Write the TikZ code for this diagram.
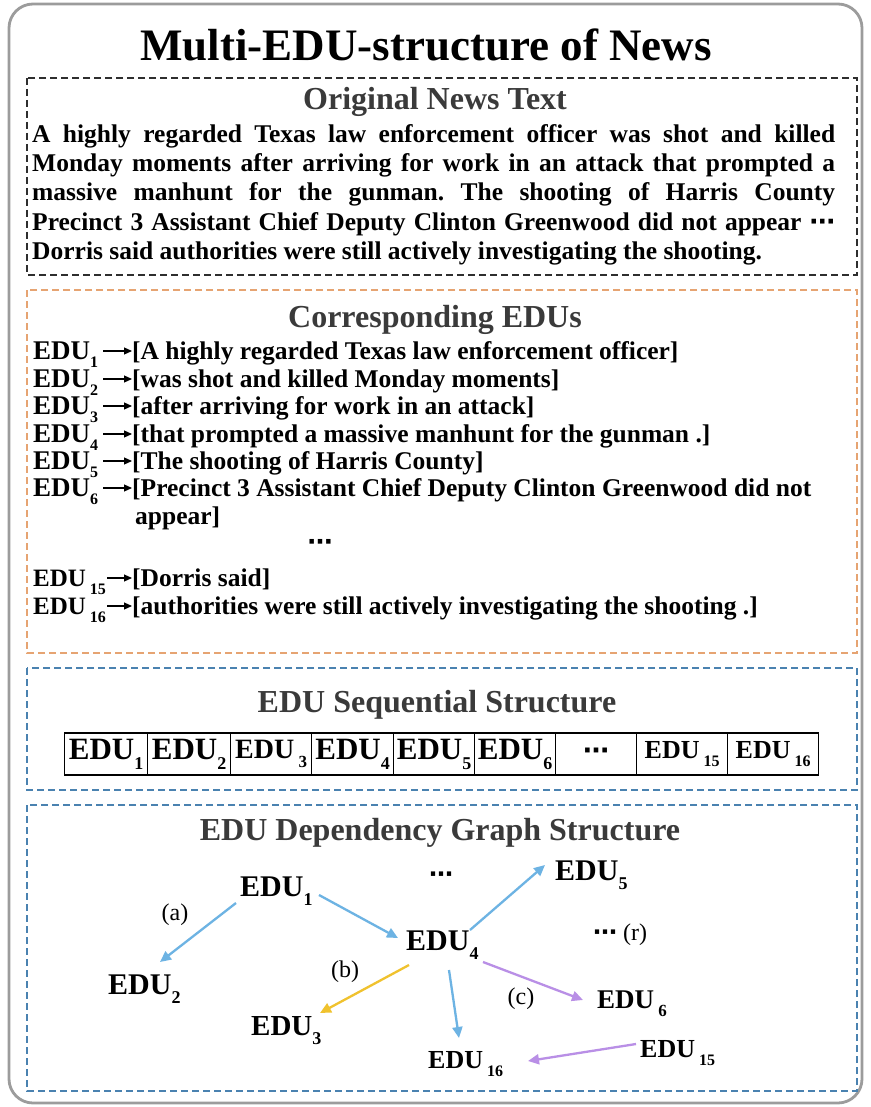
\documentclass[tikz,border=0pt]{standalone}
\usepackage{fontspec}
\setmainfont{Liberation Serif}
\newfontfamily\dejavu{DejaVu Sans}
\usetikzlibrary{arrows.meta,calc}
\newcommand\fsz[1]{\fontsize{#1}{#1}\selectfont}
\newcommand\edu[3]{{\fsz{#1}\bfseries EDU\raisebox{-0.32em}{\fsz{#2}\bfseries #3}}}
\newcommand\mdots{{\dejavu\bfseries ⋯}}
\definecolor{frame}{HTML}{9C9C9C}
\definecolor{boxblack}{HTML}{2E2E2E}
\definecolor{boxorange}{HTML}{E6A472}
\definecolor{boxblue}{HTML}{4A82B0}
\definecolor{heading}{HTML}{3A3A3A}
\definecolor{ablue}{HTML}{6DB3E3}
\definecolor{ayellow}{HTML}{F0C22E}
\definecolor{apurple}{HTML}{B98FE6}
\begin{document}
\frenchspacing
\begin{tikzpicture}[x=1pt,y=-1pt,
  dbox/.style={dash pattern=on 7pt off 4pt, line width=1.3pt},
  head/.style={font=\fsz{32}\bfseries, text=heading, inner sep=0pt},
  body/.style={font=\fsz{25.5}\bfseries, anchor=base west, inner sep=0pt},
  lab/.style={anchor=base west, inner sep=0pt},
  ltext/.style={font=\fsz{25.5}\bfseries, anchor=base west, inner sep=0pt},
  larr/.style={line width=1.1pt, -{Triangle[length=8pt,width=7pt]}},
  cell/.style={draw=black, line width=1.3pt, minimum height=42pt, inner sep=0pt, anchor=west},
  garr/.style={line width=2.3pt, -{Triangle[length=11pt,width=10pt]}},
  glab/.style={font=\fsz{24}, inner sep=0pt}
]
\useasboundingbox (0,0) rectangle (870,1107);
\fill[white] (0,0) rectangle (870,1107);
% outer frame
\draw[frame, line width=2.8pt, rounded corners=24pt] (9,4) rectangle (862,1103);
\node[font=\fsz{45}\bfseries, inner sep=0pt] (title) at (426,45) {Multi-EDU-structure of News};

% Box 1
\draw[boxblack, dbox] (27,78) rectangle (857,275);
\node[head] (h1) at (435,102) {Original News Text};
\node[body] (b1) at (32,143) {\makebox[803pt][s]{A highly regarded Texas law enforcement officer was shot and killed}};
\node[body] (b2) at (32,172) {\makebox[803pt][s]{Monday moments after arriving for work in an attack that prompted a}};
\node[body] (b3) at (32,201) {\makebox[803pt][s]{massive manhunt for the gunman. The shooting of Harris County}};
\node[body] (b4) at (32,230) {\makebox[803pt][s]{Precinct 3 Assistant Chief Deputy Clinton Greenwood did not appear \mdots}};
\node[body] (b5) at (32,259) {Dorris said authorities were still actively investigating the shooting.};

% Box 2
\draw[boxorange, dbox] (27,290) rectangle (857,653);
\node[head] (h2) at (435,320) {Corresponding EDUs};
\foreach \i/\y/\t in {1/359/{[A highly regarded Texas law enforcement officer]},
                      2/387/{[was shot and killed Monday moments]},
                      3/414/{[after arriving for work in an attack]},
                      4/442/{[that prompted a massive manhunt for the gunman .]},
                      5/469/{[The shooting of Harris County]},
                      6/496/{[Precinct 3 Assistant Chief Deputy Clinton Greenwood did not}}{
  \node[lab] (l\i) at (33,\y) {\edu{27}{16}{\i}};
  \node[ltext] (t\i) at (132,\y) {\t};
  \draw[larr] ([xshift=5pt,yshift=8pt]l\i.base east) -- ([yshift=8pt]t\i.base west);
}
\node[ltext] (t6b) at (135,524) {appear]};
\node[font=\fsz{25}, inner sep=0pt] (ldots) at (320,545) {\mdots};
\node[lab] (l15) at (33,586) {\edu{25}{16}{\ 15}};
\node[ltext] (t15) at (132,586) {[Dorris said]};
\draw[larr] ([xshift=1pt,yshift=8pt]l15.base east) -- ([yshift=8pt]t15.base west);
\node[lab] (l16) at (33,614) {\edu{25}{16}{\ 16}};
\node[ltext] (t16) at (132,614) {[authorities were still actively investigating the shooting .]};
\draw[larr] ([xshift=1pt,yshift=8pt]l16.base east) -- ([yshift=8pt]t16.base west);

% Box 3
\draw[boxblue, dbox] (27,668) rectangle (857,790);
\node[head] (h3) at (437,705) {EDU Sequential Structure};
\node[cell, minimum width=83pt] (c1) at (64,754) {\edu{31}{18}{1}};
\node[cell, minimum width=83pt] (c2) at (147,754) {\edu{31}{18}{2}};
\node[cell, minimum width=81pt] (c3) at (230,754) {\edu{28}{17}{\ 3}};
\node[cell, minimum width=82pt] (c4) at (311,754) {\edu{31}{18}{4}};
\node[cell, minimum width=81pt] (c5) at (393,754) {\edu{31}{18}{5}};
\node[cell, minimum width=81pt] (c6) at (474,754) {\edu{31}{18}{6}};
\node[cell, minimum width=81pt] (c7) at (555,754) {\fsz{26}\mdots};
\node[cell, minimum width=91pt] (c8) at (636,754) {\edu{26}{16}{\ 15}};
\node[cell, minimum width=91pt] (c9) at (727,754) {\edu{26}{16}{\ 16}};

% Box 4
\draw[boxblue, dbox] (27,805) rectangle (857,1091);
\node[head] (h4) at (440,833) {EDU Dependency Graph Structure};
\node[lab] (e1) at (240,896) {\edu{30}{18}{1}};
\node[lab] (e2) at (108,994) {\edu{30}{18}{2}};
\node[lab] (e3) at (251,1035) {\edu{29}{18}{3}};
\node[lab] (e4) at (406,950) {\edu{30}{18}{4}};
\node[lab] (e5) at (555,880) {\edu{30}{18}{5}};
\node[lab] (e6) at (597,1008) {\edu{27}{17}{\ 6}};
\node[lab] (e15) at (640,1057) {\edu{26}{16}{\ 15}};
\node[lab] (e16) at (428,1068) {\edu{26}{16}{\ 16}};
\node[glab] (la) at (175,915) {(a)};
\node[glab] (lb) at (345,972) {(b)};
\node[glab] (lc) at (521,999) {(c)};
\node[glab] (gd1) at (441,877) {\mdots};
\node[glab] (lr) at (620,935) {\mdots\ (r)};
\draw[garr, ablue] ($(e1.base west)+(-4,7)$) -- ($(e2.base west)+(52,-32)$);
\draw[garr, ablue] ($(e1.base west)+(79,-1)$) -- ($(e4.base west)+(-8,-12)$);
\draw[garr, ablue] ($(e4.base west)+(64,-20)$) -- ($(e5.base west)+(-10,-15)$);
\draw[garr, ayellow] ($(e4.base west)+(3,15)$) -- ($(e3.base west)+(69,-22)$);
\draw[garr, ablue] ($(e4.base west)+(43,20)$) -- ($(e16.base west)+(31,-30)$);
\draw[garr, apurple] ($(e4.base west)+(77,12)$) -- ($(e6.base west)+(-14,-8)$);
\draw[garr, apurple] ($(e15.base west)+(-4,-13)$) -- ($(e16.base west)+(100,-7)$);
\end{tikzpicture}
\end{document}
